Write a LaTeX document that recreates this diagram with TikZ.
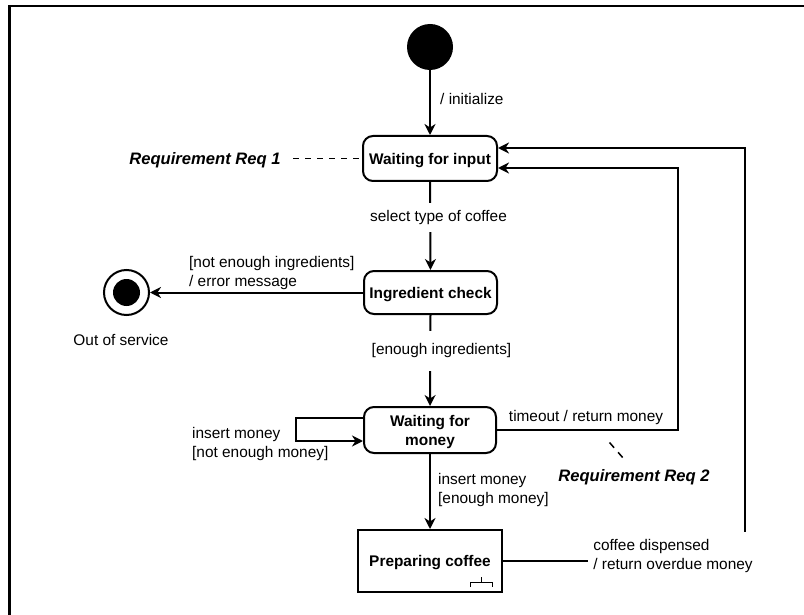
\documentclass[tikz,border=0pt]{standalone}
\usepackage{fontspec}
\setmainfont{Liberation Sans}
\usetikzlibrary{arrows.meta}
\newcommand{\lowertxt}[1]{\raisebox{-2pt}[\height][\depth]{#1}}
\begin{document}
\begin{tikzpicture}[x=1pt,y=-1pt,
  lbl/.style={font=\fontsize{15.4}{19}\selectfont, align=left, inner sep=2pt, yshift=-1.5pt},
  statebox/.style={draw, line width=2pt, rounded corners=10pt, font=\fontsize{15.4}{19}\selectfont\bfseries, align=center, inner sep=0pt},
  conn/.style={line width=2pt, -{Stealth[length=11pt,width=11pt,inset=3.5pt]}},
  notetxt/.style={font=\fontsize{16.6}{19}\selectfont\bfseries\itshape, inner sep=0pt},
  notelink/.style={line width=1.5pt, dash pattern=on 6pt off 6pt},
  gap/.style={fill=white, inner xsep=3pt}
]
\useasboundingbox (0,0) rectangle (804,615);
\draw[line width=2.5pt] (9.5,616) -- (9.5,6) -- (805,6);

% states
\node[circle, fill=black, minimum size=46pt, inner sep=0pt] (init) at (430,47) {};
\node[statebox, minimum width=134pt, minimum height=45pt] (wfi) at (430,158.5) {\lowertxt{Waiting for input}};
\node[statebox, minimum width=133pt, minimum height=43pt] (ic) at (430.5,292.5) {\lowertxt{Ingredient check}};
\node[statebox, minimum width=132pt, minimum height=46pt] (wfm) at (430,430) {\lowertxt{\begin{tabular}{@{}c@{}}Waiting for\\money\end{tabular}}};
\node[statebox, rounded corners=0pt, minimum width=144pt, minimum height=62pt] (pc) at (430,561) {};
\node[font=\fontsize{15.4}{19}\selectfont\bfseries, inner sep=0pt, yshift=-1.5pt] (pct) at (430,561) {Preparing coffee};
\node[circle, draw, line width=2pt, minimum size=45pt, inner sep=0pt] (oos) at (126.5,292.5) {};
\node[circle, fill=black, minimum size=27pt, inner sep=0pt] (oosin) at (126.5,292.5) {};
\node[lbl] (oosl) at (121,338) {Out of service};

% rake symbol
\draw[line width=1pt] (481.5,577) -- (481.5,582) (470.5,587) -- (470.5,582) -- (492.5,582) -- (492.5,587);

% transitions
\draw[conn] (init.south) -- (wfi.north);
\node[lbl, anchor=west] (linit) at (438,97) {/ initialize};

\draw[conn] (wfi.south) -- (ic.north);
\node[lbl, gap, inner ysep=7pt] (lsel) at (438.5,216) {select type of coffee};

\draw[conn] (ic.west) -- (oos.east);
\node[lbl, anchor=west] (lnot) at (187,271.5) {{[not enough ingredients]}\\/ error message};

\draw[conn] (ic.south) -- (wfm.north);
\node[lbl, gap, inner ysep=13pt] (lenough) at (441.5,349.5) {{[enough ingredients]}};

\coordinate (loopa) at (296,418);
\coordinate (loopb) at (296,441);
\draw[conn] (wfm.west |- loopa) -- (loopa) -- (loopb) -- (wfm.west |- loopb);
\node[lbl, anchor=west] (lloop) at (190,442.5) {insert money\\{}{[not enough money]}};

\draw[conn] (wfm.south) -- (pc.north);
\node[lbl, anchor=west] (lins) at (436,489) {insert money\\{}{[enough money]}};

\coordinate (ta) at (678,430);
\coordinate (tb) at (678,168);
\draw[conn] (wfm.east) -- (ta) -- (tb) -- (wfi.east |- tb);
\node[lbl] (ltime) at (586,416) {timeout / return money};

\coordinate (ca) at (745,561);
\coordinate (cb) at (745,148);
\draw[conn] (pc.east) -- (ca) -- (cb) -- (wfi.east |- cb);
\node[lbl, gap, inner xsep=5pt, inner ysep=7pt] (lcof) at (673,554.5) {coffee dispensed\\/ return overdue money};

% notes
\node[notetxt, yshift=-1pt] (req1) at (205,159) {Requirement Req 1};
\coordinate (r1a) at (293,158.5);
\draw[notelink] (r1a) -- (wfi.west);

\node[notetxt, yshift=-1pt] (req2) at (634,476) {Requirement Req 2};
\coordinate (r2a) at (609.5,442.5);
\coordinate (r2b) at (623.5,458.5);
\draw[notelink, dash pattern=on 7pt off 6pt] (r2a) -- (r2b);
\end{tikzpicture}
\end{document}
